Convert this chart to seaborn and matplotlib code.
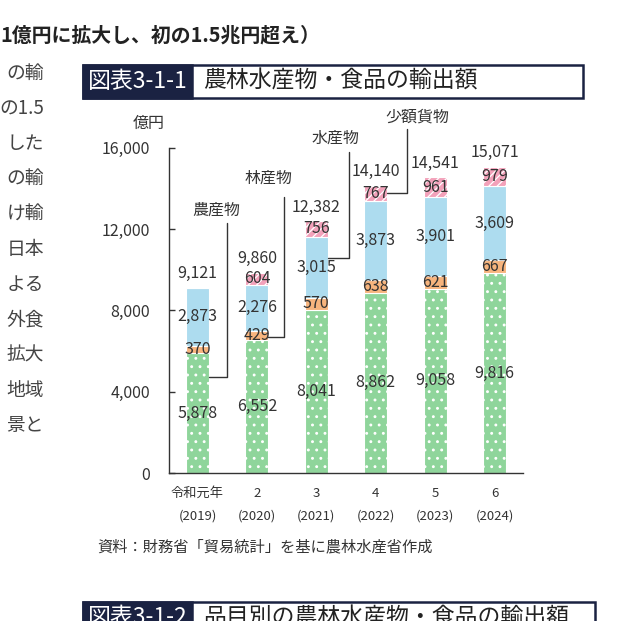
import matplotlib
matplotlib.use("Agg")
import matplotlib.pyplot as plt
import seaborn as sns
import pandas as pd
import numpy as np
from matplotlib.patches import Rectangle

# ---------------- data ----------------
year_labels = ["令和元年\n(2019)", "2\n(2020)", "3\n(2021)", "4\n(2022)", "5\n(2023)", "6\n(2024)"]
series_names = ["農産物", "林産物", "水産物", "少額貨物"]
agri = [5878, 6552, 8041, 8862, 9058, 9816]
forest = [370, 429, 570, 638, 621, 667]
fish = [2873, 2276, 3015, 3873, 3901, 3609]
small_parcel = [0, 604, 756, 767, 961, 979]
totals = [9121, 9860, 12382, 14140, 14541, 15071]
yticks = [0, 4000, 8000, 12000, 16000]

heading = "1億円に拡大し、初の1.5兆円超え）"
left_column = ["の輸", "の1.5", "した", "の輸", "け輸", "日本", "よる", "外食", "拡大", "地域", "景と"]
title_no = "図表3-1-1"
title_text = "農林水産物・食品の輸出額"
title2_no = "図表3-1-2"
title2_text = "品目別の農林水産物・食品の輸出額"
unit_label = "億円"
source_text = "資料：財務省「貿易統計」を基に農林水産省作成"

# ---------------- style ----------------
W, H = 642, 621
def fx(px):
    return px / W
def fy(py):
    return 1 - py / H

sns.set_theme(style="white")
plt.rcParams["font.family"] = ["Noto Sans CJK JP", "DejaVu Sans"]
plt.rcParams["hatch.linewidth"] = 0.9

TXT = "#333333"
NAVY = "#1a2242"
colors = ["#8fd59b", "#f7b47d", "#addcef", "#f3a1ba"]
hatches = ["..", None, None, "////"]

fig = plt.figure(figsize=(W / 100, H / 100), dpi=100)
fig.patch.set_facecolor("white")
ax = fig.add_axes([fx(169), fy(473), fx(523) - fx(169), fy(147.7) - fy(473)])

layers = [agri, forest, fish, small_parcel]
bottom = np.zeros(len(year_labels))
BW = 0.39
for name, vals, col, h in zip(series_names, layers, colors, hatches):
    df = pd.DataFrame({"year": year_labels, "value": vals})
    sns.barplot(data=df, x="year", y="value", order=year_labels, color=col,
                saturation=1, width=BW, bottom=bottom.copy(), errorbar=None,
                edgecolor="white", linewidth=0.8, hatch=h, ax=ax)
    for i, v in enumerate(vals):
        if v > 0:
            ax.text(i, bottom[i] + v / 2, f"{v:,}", ha="center", va="center",
                    fontsize=11.5, color=TXT)
    bottom = bottom + np.array(vals)

for i, t in enumerate(totals):
    ax.annotate(f"{t:,}", (i, t), xytext=(0, 10), textcoords="offset points",
                ha="center", va="center", fontsize=11.5, color=TXT)

# leader lines to category names
leaders = {
    "農産物": dict(bar=0, y=4720, xe=0.495, ytop=12300, lx=0.32, ly=12940),
    "林産物": dict(bar=1, y=6690, xe=1.45, ytop=13580, lx=1.19, ly=14510),
    "水産物": dict(bar=2, y=10575, xe=2.55, ytop=15790, lx=2.33, ly=16480),
    "少額貨物": dict(bar=3, y=13770, xe=3.52, ytop=16920, lx=3.71, ly=17510),
}
for name, d in leaders.items():
    x0 = d["bar"] + BW / 2
    ax.plot([x0, d["xe"], d["xe"]], [d["y"], d["y"], d["ytop"]], color=TXT,
            lw=1.0, clip_on=False)
    ax.text(d["lx"], d["ly"], name, ha="center", va="center", fontsize=11.5,
            color=TXT, clip_on=False)

ax.set_xlim(-0.48, 5.48)
ax.set_ylim(0, 16000)
ax.set_yticks(yticks)
ax.set_yticklabels([f"{v:,}" for v in yticks])
ax.set_xlabel("")
ax.set_ylabel("")
for s in ["top", "right"]:
    ax.spines[s].set_visible(False)
for s in ["left", "bottom"]:
    ax.spines[s].set_color(TXT)
    ax.spines[s].set_linewidth(1.0)
ax.tick_params(axis="y", direction="in", length=4, width=1, color=TXT,
               pad=13.5, labelsize=11.5, labelcolor=TXT, left=True)
ax.tick_params(axis="x", length=0, pad=10, labelsize=9.5, labelcolor=TXT)
for lab in ax.get_xticklabels():
    lab.set_linespacing(2.0)

fig.text(fx(149), fy(123), unit_label, ha="center", va="center", fontsize=11.5, color=TXT)

# heading and left text column (page context)
fig.text(fx(0), fy(35), heading, ha="left", va="center", fontsize=14.3,
         fontweight="bold", color="#222222")
for k, s in enumerate(left_column):
    fig.text(fx(44), fy(73 + k * 35.3), s, ha="right", va="center", fontsize=13.5,
             color="#444444")

# title box 1
fig.add_artist(Rectangle((fx(83), fy(98)), fx(583) - fx(83), fy(65) - fy(98),
                         transform=fig.transFigure, facecolor="white",
                         edgecolor=NAVY, lw=1.8))
fig.add_artist(Rectangle((fx(83), fy(98)), fx(192) - fx(83), fy(65) - fy(98),
                         transform=fig.transFigure, facecolor=NAVY,
                         edgecolor=NAVY, lw=1.8))
fig.text(fx(137.5), fy(81.5), title_no, ha="center", va="center", fontsize=16.5, color="white")
fig.text(fx(203), fy(81.5), title_text, ha="left", va="center", fontsize=16.5, color="#222222")

# title box 2 (cut at page bottom, as in the source page)
fig.add_artist(Rectangle((fx(83), fy(640)), fx(595) - fx(83), fy(602) - fy(640),
                         transform=fig.transFigure, facecolor="white",
                         edgecolor=NAVY, lw=1.8))
fig.add_artist(Rectangle((fx(83), fy(640)), fx(192) - fx(83), fy(602) - fy(640),
                         transform=fig.transFigure, facecolor=NAVY,
                         edgecolor=NAVY, lw=1.8))
fig.text(fx(137.5), fy(618), title2_no, ha="center", va="center", fontsize=16.5, color="white")
fig.text(fx(203), fy(618), title2_text, ha="left", va="center", fontsize=16.5, color="#222222")

fig.text(fx(97), fy(547), source_text, ha="left", va="center", fontsize=11, color=TXT)

fig.savefig("out.png", dpi=100, facecolor="white")
